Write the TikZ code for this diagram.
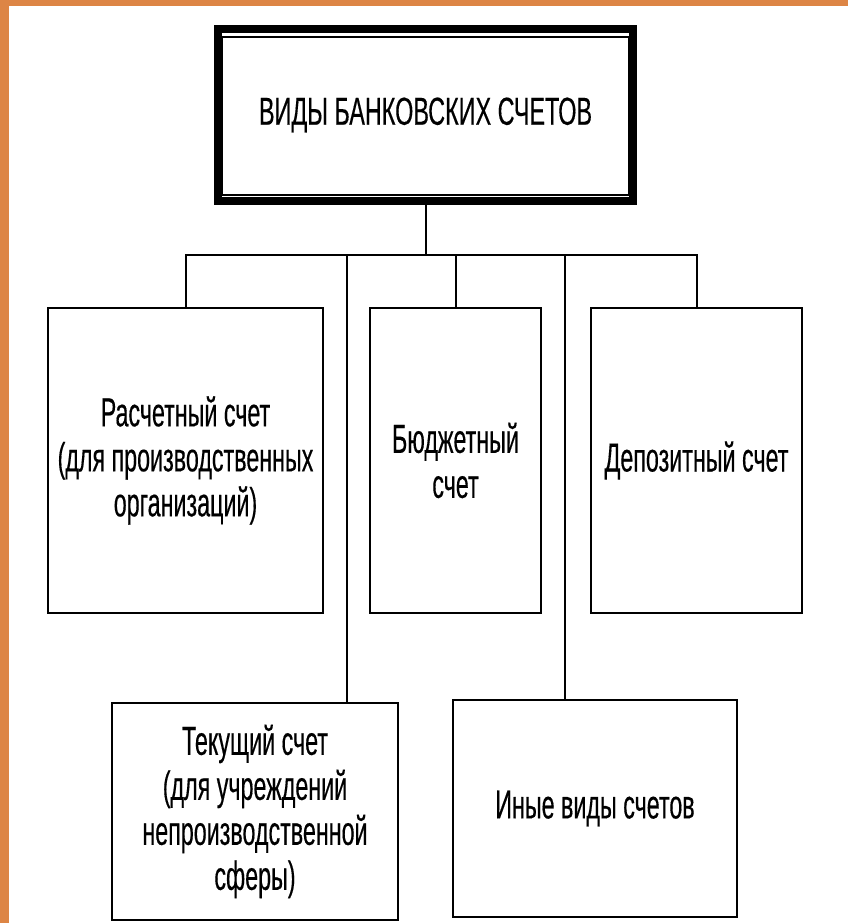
\documentclass[tikz,border=0pt]{standalone}
\usepackage{fontspec}
\setmainfont{Liberation Sans}
\newfontfamily\nar[FakeStretch=0.575,FakeBold=0.3]{Liberation Sans}
\newfontfamily\narT[FakeStretch=0.6,FakeBold=0.3]{Liberation Sans}
\definecolor{frameorange}{HTML}{DD8545}
\tikzset{
  acct/.style={draw=black, line width=2.5pt, fill=white, align=center, inner sep=0pt,
    font=\nar\fontsize{40.5}{45}\selectfont},
  conn/.style={draw=black, line width=2pt},
}
\begin{document}
\begin{tikzpicture}[x=1pt,y=-1pt]
\useasboundingbox (0,0) rectangle (848,923);
\fill[frameorange] (0,0) rectangle (848,923);
\fill[white] (9,6) rectangle (848,923);
% title
\node[draw=black, line width=8pt, minimum width=415pt, minimum height=172pt, inner sep=0pt,
  font=\narT\fontsize{39}{44}\selectfont] (title) at (425.5,115) {\raisebox{2pt}{ВИДЫ БАНКОВСКИХ СЧЕТОВ}};
\draw[line width=2.5pt] ([xshift=8pt,yshift=-12pt]title.north west) rectangle ([xshift=-8pt,yshift=10pt]title.south east);
% boxes
\node[acct, minimum width=275pt, minimum height=305pt] (rasch) at (185.5,460.5)
  {Расчетный счет\\(для производственных\\организаций)};
\node[acct, minimum width=171pt, minimum height=305pt] (budg) at (455.5,460.5)
  {Бюджетный\\счет};
\node[acct, minimum width=211pt, minimum height=305pt] (depo) at (696.5,460.5)
  {Депозитный счет};
\node[acct, minimum width=286pt, minimum height=217pt] (tek) at (255,811.5)
  {Текущий счет\\(для учреждений\\непроизводственной\\сферы)};
\node[acct, minimum width=284pt, minimum height=217pt] (inye) at (595,808.5)
  {Иные виды счетов};
% connectors
\coordinate (bus) at (425,255);
\coordinate (t1) at (347,255);
\coordinate (t2) at (565,255);
\draw[conn] (title.south) -- (title.south |- bus);
\draw[conn] (rasch.north) |- (depo.north |- bus) -- (depo.north);
\draw[conn] (budg.north) -- (budg.north |- bus);
\draw[conn] (t1) -- (t1 |- tek.north);
\draw[conn] (t2) -- (t2 |- inye.north);
\end{tikzpicture}
\end{document}
